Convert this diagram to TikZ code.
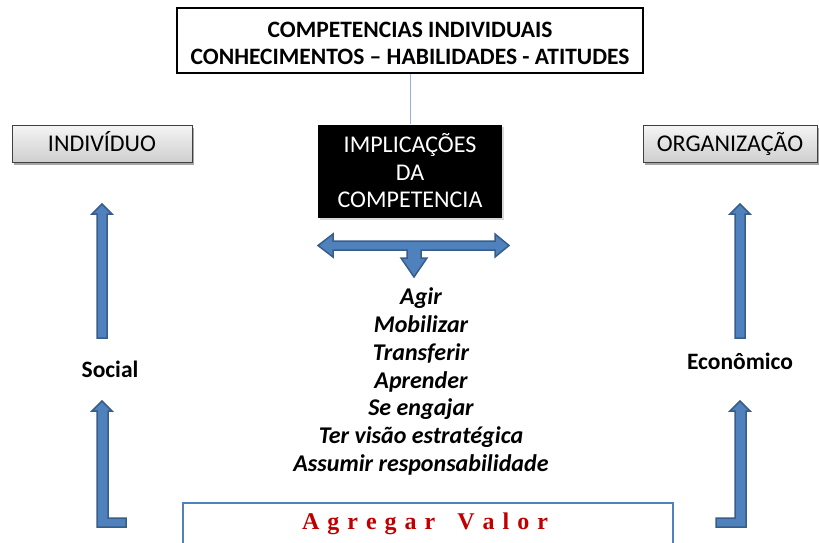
\documentclass[tikz,border=0pt]{standalone}
\usepackage{fontspec}
\setmainfont{Carlito}
\newfontfamily\valfont{Liberation Serif}
\usetikzlibrary{shadows}
\definecolor{ablue}{HTML}{4F81BD}
\definecolor{abluedark}{HTML}{385D8A}
\definecolor{lineblue}{HTML}{95B3D7}
\definecolor{valred}{HTML}{C00000}
\definecolor{boxgray}{HTML}{404040}
\tikzset{
  topbox/.style={draw=black, line width=2pt, fill=white, minimum width=466pt, minimum height=65pt, inner sep=0pt},
  toptext/.style={align=center, inner sep=0pt, font=\bfseries\fontsize{23.5}{27}\selectfont},
  implbox/.style={fill=black, text=white, minimum width=184pt, minimum height=93pt, inner sep=0pt, align=center, font=\fontsize{24}{27.5}\selectfont, drop shadow={shadow xshift=1.5pt, shadow yshift=-2pt, opacity=0.3, fill=gray}},
  graybox/.style={draw=boxgray, line width=1pt, top color=gray!8, bottom color=gray!38, minimum height=37pt, inner sep=0pt, text height=18pt, text depth=2pt, font=\fontsize{24}{26}\selectfont, drop shadow={shadow xshift=1.5pt, shadow yshift=-2.5pt, opacity=0.35, fill=black}},
  blockarrow/.style={fill=ablue, draw=abluedark, line width=1.5pt, line join=miter},
  sidelabel/.style={font=\bfseries\fontsize{23.5}{26}\selectfont},
  listtext/.style={align=center, font=\bfseries\itshape\fontsize{24}{27.7}\selectfont},
  valbox/.style={draw=ablue, line width=2pt, fill=white},
}
\begin{document}
\begin{tikzpicture}[x=1pt,y=-1pt]
\useasboundingbox (0,0) rectangle (819,543);
\clip (0,0) rectangle (819,543);
\fill[white] (0,0) rectangle (819,543);

% top box
\node[topbox] (top) at (410,40.5) {};
\node[toptext] (toptxt) at (410,43) {COMPETENCIAS INDIVIDUAIS\\CONHECIMENTOS -- HABILIDADES - ATITUDES};

% implications box
\node[implbox] (impl) at (410,171) {IMPLICAÇÕES\\DA\\COMPETENCIA};
\draw[lineblue, line width=1pt] (top.south) -- (impl.north);

% side boxes
\node[graybox, minimum width=180pt] (indiv) at (102,143.5) {INDIVÍDUO};
\node[graybox, minimum width=174pt] (org) at (730,143.5) {ORGANIZAÇÃO};

% double arrow with down branch
\draw[blockarrow] (318,245.5) -- (333,234) -- (333,241) -- (495,241) -- (495,234) -- (509,245.5) -- (495,257) -- (495,250) -- (421,250) -- (421,258) -- (427,258) -- (414,277) -- (401,258) -- (407,258) -- (407,250) -- (333,250) -- (333,257) -- cycle;

% left arrows
\draw[blockarrow] (102,204) -- (112,214) -- (107,214) -- (107,338) -- (97,338) -- (97,214) -- (92,214) -- cycle;
\draw[blockarrow] (102,401) -- (112,411) -- (108,411) -- (108,518) -- (126,518) -- (126,527) -- (97,527) -- (97,411) -- (92,411) -- cycle;

% right arrows
\draw[blockarrow] (740,204) -- (750,214) -- (745,214) -- (745,338) -- (735,338) -- (735,214) -- (730,214) -- cycle;
\draw[blockarrow] (740,401) -- (750,411) -- (746,411) -- (746,527) -- (716,527) -- (716,518) -- (735,518) -- (735,411) -- (730,411) -- cycle;

% side labels
\node[sidelabel] (social) at (110,369) {Social};
\node[sidelabel] (econ) at (740,361) {Econômico};

% list
\node[listtext] (list) at (421,381.5) {Agir\\Mobilizar\\Transferir\\Aprender\\Se engajar\\Ter visão estratégica\\Assumir responsabilidade};

% bottom box
\draw[valbox] (183,503) rectangle (673,560);
\node[font=\valfont\bfseries\fontsize{24}{28}\selectfont, text=valred] (valor) at (425,524) {A\,\,g\,\,r\,\,e\,\,g\,\,a\,\,r\,\,\,\, V\,\,a\,\,l\,\,o\,\,r};
\end{tikzpicture}
\end{document}
